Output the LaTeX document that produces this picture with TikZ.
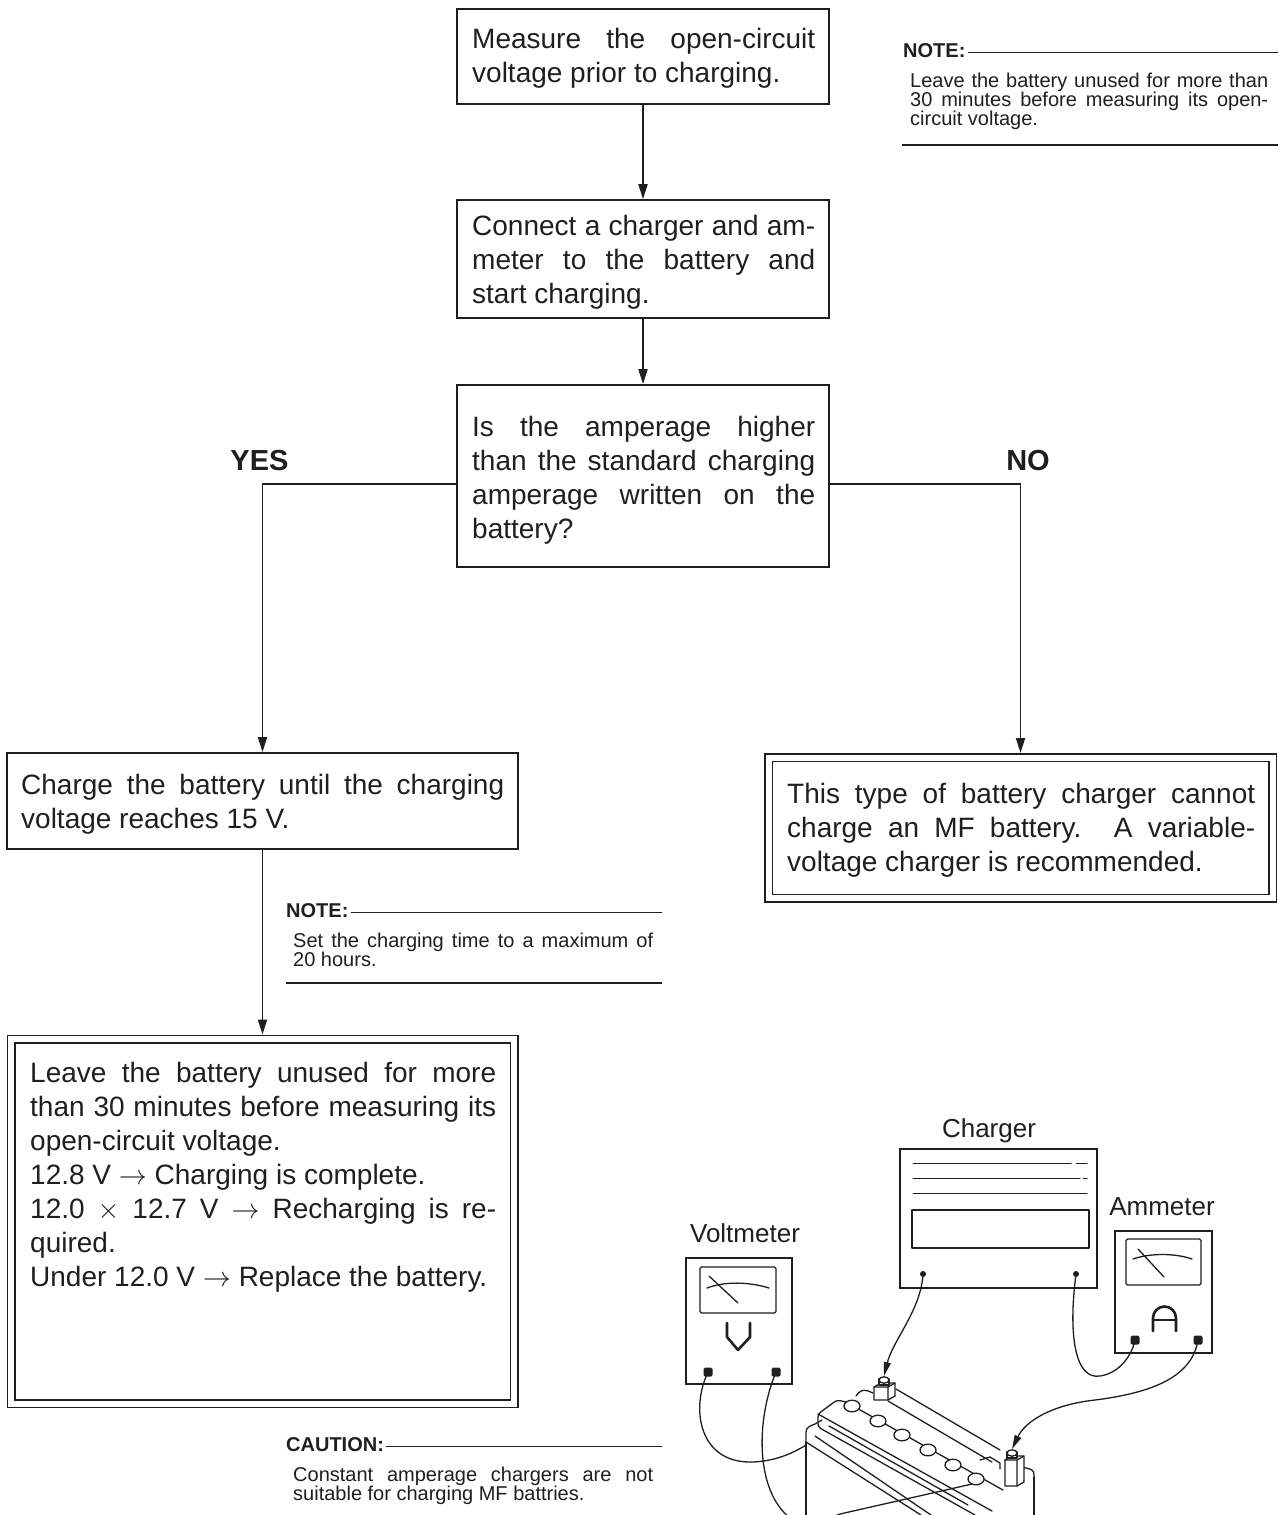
\RequirePackage{fix-cm}
\documentclass[tikz,border=0pt]{standalone}
\usepackage{fontspec}
\setmainfont{Liberation Sans}
\usetikzlibrary{arrows.meta,calc}

\definecolor{ink}{gray}{0.12}

% a block of lines set in a given width; \jl spreads a line over the
% full width, \pl sets a line at its natural width
\newcommand\lines[2]{\def\jw{#1}\vbox{\lineskiplimit=-\maxdimen #2}}
\newcommand\jl[1]{\hbox to \jw{\spaceskip=\fontdimen2\font plus 1fil minus .12em\relax\strut#1}}
\newcommand\pl[1]{\hbox{\strut#1}}

\newcommand\bodyfont{\fontsize{28}{34}\selectfont}
\newcommand\notefont{\fontsize{20}{19}\selectfont}
\newcommand\noteheadfont{\fontsize{20}{24}\selectfont\bfseries}
\newcommand\ynfont{\fontsize{29}{34}\selectfont\bfseries}
\newcommand\lblfont{\fontsize{26}{30}\selectfont}

\tikzset{
  box/.style={draw=ink, line width=1.7pt, inner sep=0pt},
  dbox/.style={draw=ink, line width=1.5pt, double=white, double distance=6pt,
               inner sep=0pt, outer sep=4.5pt},
  txt/.style={inner sep=0pt, anchor=north west, font=\bodyfont, text=ink},
  ntxt/.style={inner sep=0pt, anchor=north west, font=\notefont, text=ink},
  nhead/.style={inner sep=0pt, anchor=base west, font=\noteheadfont, text=ink},
  rule/.style={draw=ink, line width=1.7pt},
  arr/.style={draw=ink, line width=1.8pt, -{Triangle[length=15pt,width=9pt]}},
  yn/.style={inner sep=0pt, anchor=base, font=\ynfont, text=ink},
  ill/.style={draw=ink, line width=1.3pt, line cap=round, line join=round},
  lbl/.style={inner sep=0pt, anchor=base, font=\lblfont, text=ink},
  wire/.style={draw=ink, line width=1.3pt},
  wirearr/.style={wire, -{Triangle[length=14pt,width=7pt]}},
  term/.style={fill=ink, inner sep=0pt, minimum size=9pt, rounded corners=1.5pt},
  tdot/.style={circle, fill=ink, inner sep=0pt, minimum size=6pt},
  device/.style={draw=ink, line width=1.6pt, inner sep=0pt},
}

\begin{document}
\begin{tikzpicture}[x=1pt,y=-1pt]
\fill[white] (0,0) rectangle (1279,1515);
\useasboundingbox (0,0) rectangle (1279,1515);

% ---------------- flow chart boxes ----------------
\node[box, minimum width=372pt, minimum height=95pt]  (b1) at (643,56.5) {};
\node[box, minimum width=372pt, minimum height=118pt] (b2) at (643,259) {};
\node[box, minimum width=372pt, minimum height=182pt] (b3) at (643,476) {};
\node[box, minimum width=511pt, minimum height=96pt]  (b4) at (262.5,801) {};
\node[dbox, minimum width=504pt, minimum height=140.5pt] (b5) at (1020.5,827.75) {};
\node[dbox, minimum width=503pt, minimum height=364.5pt] (b6) at (262.5,1221.25) {};

\node[txt] (t1) at (472,24.7) {\lines{343pt}{%
  \jl{Measure the open-circuit}
  \pl{voltage prior to charging.}}};
\node[txt] (t2) at (472,211.2) {\lines{343pt}{%
  \jl{Connect a charger and am-}
  \jl{meter to the battery and}
  \pl{start charging.}}};
\node[txt] (t3) at (472,412.2) {\lines{343pt}{%
  \jl{Is the amperage higher}
  \jl{than the standard charging}
  \jl{amperage written on the}
  \pl{battery?}}};
\node[txt] (t4) at (21,770.2) {\lines{483pt}{%
  \jl{Charge the battery until the charging}
  \pl{voltage reaches 15 V.}}};
\node[txt] (t5) at (787,779.7) {\lines{468pt}{%
  \jl{This type of battery charger cannot}
  \jl{charge an MF battery. A variable-}
  \pl{voltage charger is recommended.}}};
\node[txt] (t6) at (30,1058.2) {\lines{466pt}{%
  \jl{Leave the battery unused for more}
  \jl{than 30 minutes before measuring its}
  \pl{open-circuit voltage.}
  \pl{12.8 V $\rightarrow$ Charging is complete.}
  \jl{12.0 $\times$ 12.7 V $\rightarrow$ Recharging is re-}
  \pl{quired.}
  \pl{Under 12.0 V $\rightarrow$ Replace the battery.}}};

% ---------------- connectors ----------------
\coordinate (yesturn) at (262.5,484);
\coordinate (noturn) at (1020.5,484);
\draw[arr] (b1) -- (b2);
\draw[arr] (b2) -- (b3);
\draw[arr] (b3.west |- yesturn) -- (yesturn) -- (b4.north);
\draw[arr] (b3.east |- noturn) -- (noturn) -- (b5.north);
\draw[arr] (b4) -- (b6);

\node[yn] (yes) at (259.5,470) {YES};
\node[yn] (no) at (1028,470) {NO};

% ---------------- notes ----------------
\node[nhead] (nh1) at (903,57) {NOTE:};
\coordinate (r1) at (1278,52.5);
\draw[rule] ([xshift=2pt]nh1.east |- r1) -- (r1);
\node[ntxt] (n1) at (910,72.4) {\lines{358pt}{%
  \jl{Leave the battery unused for more than}
  \jl{30 minutes before measuring its open-}
  \pl{circuit voltage.}}};
\draw[rule] (902,145) -- (1278,145);

\node[nhead] (nh2) at (286,917) {NOTE:};
\coordinate (r2) at (662,912.5);
\draw[rule] ([xshift=2pt]nh2.east |- r2) -- (r2);
\node[ntxt] (n2) at (293,932.4) {\lines{360pt}{%
  \jl{Set the charging time to a maximum of}
  \pl{20 hours.}}};
\draw[rule] (286,983) -- (662,983);

\node[nhead] (nh3) at (286,1451) {CAUTION:};
\coordinate (r3) at (662,1446.5);
\draw[rule] ([xshift=2pt]nh3.east |- r3) -- (r3);
\node[ntxt] (n3) at (293,1466.4) {\lines{360pt}{%
  \jl{Constant amperage chargers are not}
  \pl{suitable for charging MF battries.}}};

% ---------------- charger ----------------
\node[lbl] (lchg) at (989,1137) {Charger};
\node[device, minimum width=197pt, minimum height=139pt] (chg) at (998.5,1218.5) {};
\draw[ill, line width=1pt] (913,1163) -- (1071,1163) (1076,1163) -- (1087,1163);
\draw[ill, line width=1pt] (913,1178) -- (1080,1178) (1083,1178) -- (1087,1178);
\draw[ill, line width=1pt] (913,1193) -- (1087,1193);
\draw[ill] (912,1210) rectangle (1089,1248);
\node[tdot] (cd1) at (923,1274) {};
\node[tdot] (cd2) at (1076,1274) {};

% ---------------- voltmeter ----------------
\node[lbl] (lvm) at (745,1242) {Voltmeter};
\node[device, minimum width=106pt, minimum height=126pt] (vm) at (739,1321) {};
\draw[ill, rounded corners=1.5pt] (700,1267) rectangle (776,1313);
\draw[ill] (707,1288) .. controls (725,1281) and (750,1282) .. (769,1288);
\draw[ill] (709,1276) -- (738,1303);
\draw[ill, line width=2.6pt] (727,1323) -- (727,1337) -- (738,1350) -- (750,1337) -- (750,1323);
\node[term] (vt1) at (708,1372) {};
\node[term] (vt2) at (776,1372) {};

% ---------------- ammeter ----------------
\node[lbl] (lam) at (1162,1215) {Ammeter};
\node[device, minimum width=97pt, minimum height=122pt] (am) at (1163.5,1292) {};
\draw[ill, rounded corners=1.5pt] (1126,1239) rectangle (1201,1285);
\draw[ill] (1133,1259) .. controls (1150,1253) and (1175,1253) .. (1192,1259);
\draw[ill] (1138,1249) -- (1164,1277);
\draw[ill, line width=2.6pt] (1153,1331) -- (1153,1318) arc[start angle=180, end angle=0, radius=11.5pt] -- (1176,1331);
\draw[ill, line width=2pt] (1153,1320) -- (1176,1320);
\node[term] (at1) at (1135,1340) {};
\node[term] (at2) at (1198,1340) {};

% ---------------- battery ----------------
% case body edges
\draw[ill] (806,1515) -- (806,1442);
\draw[ill] (1034,1515) -- (1034,1477);
% rim, front left corner and front edges
\draw[ill] (806,1442) -- (806,1432) to[out=90,in=200] (815,1424) -- (822,1420);
\draw[ill] (806,1442) -- (921,1515);
\draw[ill] (815,1436) -- (931,1515);
% rim, right corner
\draw[ill] (1034,1477) -- (1034,1474) to[out=90,in=-10] (1026,1468) -- (1012,1465);
% cover: left end, front faces and back edge
\draw[ill, rounded corners=3pt] (975,1515) -- (818,1427) -- (818,1414) -- (837,1400) -- (846,1402);
\draw[ill] (818,1414) -- (992,1511);
\draw[ill] (846,1402) -- (1003,1490);
\draw[ill] (829,1426) -- (968,1505);
% strip between the terminals
\draw[ill] (896,1389) -- (1000,1450);
\draw[ill] (888,1401) -- (992,1462);
\draw[ill, rounded corners=2pt] (856,1396) -- (860,1391) -- (866,1390) -- (873,1393);
\draw[ill] (980,1460) -- (990,1457) -- (1000,1463) -- (1000,1469);
% vent caps
\foreach \cx/\cy in {852/1406, 878/1421, 902/1435, 928/1450, 953/1465, 976/1479}
  \draw[ill, fill=white] (\cx,\cy) ellipse [x radius=8pt, y radius=5.8pt];
% positive terminal
\draw[ill, fill=white] (874,1387) -- (881,1383) -- (895,1383) -- (895,1396) -- (888,1400) -- (874,1400) -- cycle;
\draw[ill] (874,1387) -- (888,1387) -- (895,1383) (888,1387) -- (888,1400);
\draw[ill, fill=white] (879,1379) rectangle (889,1385);
\draw[ill, fill=white] (884,1380) ellipse [x radius=5pt, y radius=3.2pt];
% negative terminal
\draw[ill, fill=white] (1005,1460) -- (1011,1456) -- (1024,1456) -- (1024,1482) -- (1017,1486) -- (1005,1486) -- cycle;
\draw[ill] (1005,1460) -- (1017,1460) -- (1024,1456) (1017,1460) -- (1017,1486);
\draw[ill, fill=white] (1007,1452) rectangle (1017,1458);
\draw[ill, fill=white] (1012,1453) ellipse [x radius=5pt, y radius=3.2pt];
\coordinate (posc) at (884,1376);
\coordinate (negc) at (1012,1449);

% ---------------- leads ----------------
\draw[wirearr] (cd1.center) .. controls (921,1310) and (893,1340) .. (posc);
\draw[wire] (cd2.center) .. controls (1068,1335) and (1075,1380) .. (1100,1376)
  .. controls (1120,1373) and (1132,1355) .. (at1.center);
\draw[wirearr] (at2.center) .. controls (1192,1378) and (1150,1393) .. (1095,1400)
  .. controls (1050,1405) and (1025,1422) .. (negc);
\draw[wire] (vt1.center) .. controls (690,1410) and (700,1462) .. (750,1462)
  .. controls (775,1462) and (795,1452) .. (806,1445);
\draw[wire] (vt2.center) .. controls (756,1420) and (755,1490) .. (790,1518)
  .. controls (810,1532) and (825,1520) .. (840,1514) -- (972,1484);
\end{tikzpicture}
\end{document}
